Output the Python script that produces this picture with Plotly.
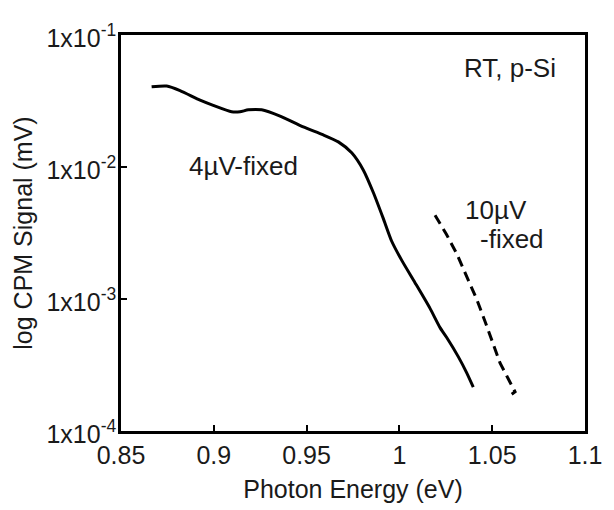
import plotly.graph_objects as go

# 4 uV-fixed (solid)
energy_4uv = [0.8665, 0.8746, 0.8818, 0.8926, 0.8997, 0.9096, 0.9141, 0.9186, 0.9258,
              0.9357, 0.9482, 0.9590, 0.9671, 0.9743, 0.9806, 0.9860, 0.9913, 0.9958,
              1.0012, 1.0084, 1.0165, 1.0219, 1.0254, 1.0317, 1.0362, 1.0398]
signal_4uv = [0.0405, 0.0410, 0.0379, 0.0321, 0.0293, 0.0262, 0.0262, 0.0271, 0.0271,
              0.0243, 0.0201, 0.0175, 0.0155, 0.0128, 0.00946, 0.00638, 0.00408, 0.00275,
              0.00197, 0.00133, 0.000849, 0.000607, 0.000513, 0.000366, 0.000277, 0.000215]

# 10 uV-fixed (dashed)
energy_10uv = [1.0192, 1.0254, 1.0309, 1.0362, 1.0416, 1.0461, 1.0506, 1.0542, 1.0578,
               1.0605, 1.0623, 1.0605]
signal_10uv = [0.00431, 0.00308, 0.00220, 0.00149, 0.00100, 0.000679, 0.000459, 0.000328,
               0.000262, 0.000221, 0.000198, 0.000190]

x_ticks = [0.85, 0.9, 0.95, 1.0, 1.05, 1.1]
x_tick_text = ["0.85", "0.9", "0.95", "1", "1.05", "1.1"]
y_ticks = [1e-4, 1e-3, 1e-2, 1e-1]
y_tick_text = ["1x10<sup>-4</sup>", "1x10<sup>-3</sup>", "1x10<sup>-2</sup>", "1x10<sup>-1</sup>"]

FONT = "Liberation Sans, Arial, sans-serif"
TEXT = "#1a1a1a"

fig = go.Figure()
fig.add_trace(go.Scatter(x=energy_4uv, y=signal_4uv, mode="lines",
                         line=dict(color="black", width=3, shape="spline", smoothing=0.6),
                         showlegend=False))
fig.add_trace(go.Scatter(x=energy_10uv, y=signal_10uv, mode="lines",
                         line=dict(color="black", width=3, dash="10px,6px"),
                         showlegend=False))

ann_font = dict(family=FONT, size=26, color=TEXT)
fig.add_annotation(x=0.838, y=0.917, xref="paper", yref="paper", text="RT, p-Si",
                   showarrow=False, font=ann_font, xanchor="center", yanchor="middle")
fig.add_annotation(x=0.265, y=0.668, xref="paper", yref="paper", text="4µV-fixed",
                   showarrow=False, font=ann_font, xanchor="center", yanchor="middle")
fig.add_annotation(x=0.808, y=0.557, xref="paper", yref="paper", text="10µV",
                   showarrow=False, font=ann_font, xanchor="center", yanchor="middle")
fig.add_annotation(x=0.843, y=0.484, xref="paper", yref="paper", text="-fixed",
                   showarrow=False, font=ann_font, xanchor="center", yanchor="middle")

fig.update_layout(
    width=614, height=510,
    margin=dict(l=113, r=37, t=12, b=87),
    paper_bgcolor="white", plot_bgcolor="white",
    font=dict(family=FONT, size=25, color=TEXT),
    xaxis=dict(range=[0.85, 1.1], tickvals=x_ticks, ticktext=x_tick_text,
               ticks="inside", ticklen=6, tickwidth=2, tickcolor="black",
               showline=True, linecolor="black", linewidth=2.5, mirror=True,
               showgrid=False, zeroline=False, ticklabeloverflow="allow",
               title=dict(text="Photon Energy (eV)", font=dict(size=25), standoff=13),
               tickfont=dict(size=25)),
    yaxis=dict(type="log", range=[-4, -1], tickvals=y_ticks, ticktext=y_tick_text,
               ticks="inside", ticklen=6, tickwidth=2, tickcolor="black",
               showline=True, linecolor="black", linewidth=2.5, mirror=True,
               showgrid=False, zeroline=False, ticklabelstandoff=-3, ticklabelshift=3,
               ticklabeloverflow="allow",
               title=dict(text="log CPM Signal (mV)", font=dict(size=25), standoff=7),
               tickfont=dict(size=25)),
)

fig.write_html("out.html")
